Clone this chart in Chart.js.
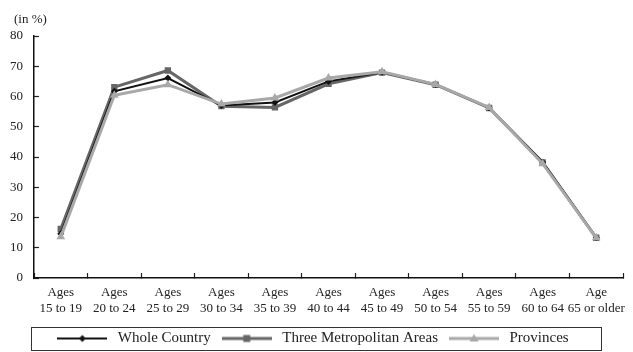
<!DOCTYPE html>
<html>
<head>
<meta charset="utf-8">
<script src="https://cdn.jsdelivr.net/npm/chart.js@4"></script>
<style>
  html, body {margin: 0; padding: 0; background: #fff; overflow: hidden;}
  #wrap {width: 633px; height: 352px; position: relative;}
</style>
</head>
<body>
<div id="wrap"><canvas id="chart"></canvas></div>
<script>
/*_____________________DATA____________________*/

const categories = [
  ['Ages', '15 to 19'], ['Ages', '20 to 24'], ['Ages', '25 to 29'], ['Ages', '30 to 34'],
  ['Ages', '35 to 39'], ['Ages', '40 to 44'], ['Ages', '45 to 49'], ['Ages', '50 to 54'],
  ['Ages', '55 to 59'], ['Ages', '60 to 64'], ['Age', '65 or older']
]
const whole_country = [14.6, 61.7, 66.1, 57.0, 58.0, 65.0, 68.0, 64.0, 56.3, 38.3, 13.4]
const metro_areas   = [16.2, 63.1, 68.6, 56.8, 56.4, 64.2, 67.9, 63.9, 56.2, 38.2, 13.3]
const provinces     = [13.6, 60.4, 63.9, 57.5, 59.5, 66.1, 68.2, 64.0, 56.4, 37.8, 13.3]
const y_ticks = [0, 10, 20, 30, 40, 50, 60, 70, 80]

const FONT = "'Liberation Serif', 'Times New Roman', serif"
Chart.defaults.font.family = FONT
Chart.defaults.color = '#222'

/*_____________________LEGEND_ICONS____________________*/

function legend_icon(color, lw, marker) {
  const c = document.createElement('canvas')
  c.width = 50; c.height = 14
  const g = c.getContext('2d')
  g.strokeStyle = color; g.fillStyle = color; g.lineWidth = lw
  g.beginPath(); g.moveTo(0, 7); g.lineTo(50, 7); g.stroke()
  g.beginPath()
  if (marker == 'diamond') {
    g.moveTo(25, 3.5); g.lineTo(28.5, 7); g.lineTo(25, 10.5); g.lineTo(21.5, 7)
  } else if (marker == 'square') {
    g.rect(21.5, 3.5, 7, 7)
  } else {
    g.moveTo(25, 2.5); g.lineTo(29.5, 10); g.lineTo(20.5, 10)
  }
  g.closePath(); g.fill()
  return c
}

/*_____________________PLUGINS____________________*/

const unit_label = {
  id: 'unit_label',
  afterDraw(chart) {
    const {ctx, chartArea} = chart
    ctx.save()
    ctx.font = '13px ' + FONT
    ctx.fillStyle = '#222'
    ctx.textAlign = 'left'
    ctx.textBaseline = 'middle'
    ctx.fillText('(in %)', chartArea.left - 20, chartArea.top - 16)
    ctx.restore()
  }
}

const legend_frame = {
  id: 'legend_frame',
  afterDraw(chart) {
    const boxes = chart.legend.legendHitBoxes
    if (!boxes.length) return
    const x0 = Math.min(...boxes.map(b => b.left)) - 23
    const x1 = Math.max(...boxes.map(b => b.left + b.width)) + 33
    const y0 = boxes[0].top - 4
    const y1 = boxes[0].top + boxes[0].height + 4
    const ctx = chart.ctx
    ctx.save()
    ctx.strokeStyle = '#333'
    ctx.lineWidth = 1
    ctx.strokeRect(Math.round(x0) + 0.5, Math.round(y0) + 0.5, Math.round(x1 - x0), Math.round(y1 - y0))
    ctx.restore()
  }
}

/*_____________________CHART____________________*/

const series = [
  {label: 'Whole Country', data: whole_country, color: '#111111', lw: 2, marker: 'diamond', style: 'rectRot', radius: 3.5, order: 1},
  {label: 'Three Metropolitan Areas', data: metro_areas, color: '#666666', lw: 3, marker: 'square', style: 'rect', radius: 4.5, order: 2},
  {label: 'Provinces', data: provinces, color: '#a8a8a8', lw: 3, marker: 'triangle', style: 'triangle', radius: 5, order: 0},
]

const ctx = document.getElementById('chart')
new Chart(ctx, {
  type: 'line',
  data: {
    labels: categories,
    datasets: series.map(s => ({
      label: s.label,
      data: s.data,
      borderColor: s.color,
      backgroundColor: s.color,
      borderWidth: s.lw,
      pointStyle: s.style,
      pointRadius: s.radius,
      pointBorderWidth: 0,
      pointBackgroundColor: s.color,
      tension: 0,
      order: s.order,
    }))
  },
  options: {
    responsive: true,
    maintainAspectRatio: false,
    animation: false,
    devicePixelRatio: 1,
    layout: {padding: {top: 36, left: 0, right: 10, bottom: -4}},
    plugins: {
      tooltip: {enabled: false},
      legend: {
        position: 'bottom',
        labels: {
          font: {size: 15, family: FONT},
          color: '#222',
          usePointStyle: true,
          pointStyleWidth: 56,
          padding: 8,
          generateLabels: (chart) => series.map((s, i) => ({
            text: s.label,
            pointStyle: legend_icon(s.color, s.lw, s.marker),
            fillStyle: s.color,
            strokeStyle: s.color,
            lineWidth: 0,
            hidden: false,
            datasetIndex: i,
            fontColor: '#222',
          }))
        }
      }
    },
    scales: {
      x: {
        offset: true,
        grid: {display: true, drawOnChartArea: false, offset: true, tickLength: -5, color: '#222', tickColor: '#222', tickWidth: 1.2},
        border: {display: true, color: '#111', width: 1.5},
        ticks: {font: {size: 13}, color: '#222', padding: 12, maxRotation: 0, autoSkip: false},
        afterFit: (scale) => { scale.paddingRight = 0; scale.paddingLeft = 0; scale.height = 45 },
      },
      y: {
        min: 0,
        max: 80,
        afterBuildTicks: (scale) => { scale.ticks = y_ticks.map(v => ({value: v})) },
        grid: {display: true, drawOnChartArea: false, tickLength: -5, color: '#222', tickColor: '#222', tickWidth: 1.2},
        border: {display: true, color: '#111', width: 1.5},
        ticks: {font: {size: 13}, color: '#222', padding: 16},
        afterFit: (scale) => { scale.width = 34 },
      }
    }
  },
  plugins: [unit_label, legend_frame]
});
</script>
</body>
</html>
